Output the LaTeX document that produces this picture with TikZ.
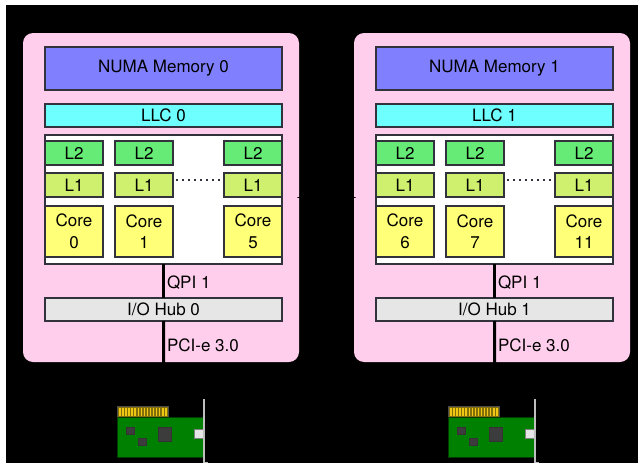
\documentclass[tikz,border=0pt]{standalone}
\usepackage{fontspec}
\setmainfont{TeX Gyre Heros}
\definecolor{edge}{RGB}{50,50,60}
\definecolor{socketpink}{RGB}{255,206,236}
\definecolor{memblue}{RGB}{128,128,255}
\definecolor{llccyan}{RGB}{110,255,255}
\definecolor{ltwo}{RGB}{102,236,118}
\definecolor{lone}{RGB}{206,240,110}
\definecolor{coreyellow}{RGB}{255,255,120}
\definecolor{hubgray}{RGB}{230,230,230}
\definecolor{pcbgreen}{RGB}{0,128,0}
\definecolor{pcbedge}{RGB}{0,60,0}
\definecolor{goldpin}{RGB}{240,200,20}
\definecolor{goldbase}{RGB}{130,110,10}
\definecolor{chipgray}{RGB}{60,60,60}
\definecolor{bracketgray}{RGB}{190,190,190}
\begin{document}
\begin{tikzpicture}[x=1pt,y=-1pt,
  every node/.style={font=\fontsize{17}{21.5}\selectfont, inner sep=0pt, outer sep=0pt},
  socket/.style={fill=socketpink, rounded corners=10pt, anchor=north west},
  unit/.style={draw=edge, line width=1.2pt, anchor=north west},
  cache/.style={unit, minimum width=58pt, minimum height=24pt},
  corebox/.style={unit, fill=coreyellow, minimum width=58pt, minimum height=51pt, align=center},
  bus/.style={line width=3pt, black},
  buslabel/.style={anchor=west},
  nic/.pic={
    % gold edge connector
    \fill[goldbase, draw=black!70, line width=0.6pt] (0,0) rectangle (51,11);
    \foreach \i in {0,...,15} \fill[goldpin] (2.2+\i*3.05,1.5) rectangle ++(1.6,8.5);
    % board
    \fill[pcbgreen, draw=pcbedge, line width=0.8pt] (0,11) rectangle (86,51);
    % chips
    \fill[chipgray, draw=black!80, line width=0.6pt] (9,21) rectangle (17,28);
    \fill[chipgray, draw=black!80, line width=0.6pt] (21,32) rectangle (29,39);
    \fill[chipgray, draw=black!80, line width=0.6pt] (41,21) rectangle (54,35);
    % port
    \fill[hubgray, draw=black!50, line width=0.6pt] (77,23) rectangle (86,32);
    % bracket
    \draw[bracketgray, line width=1.4pt] (87,-7) -- (87,56.5) -- (91,56.5);
  }]
\useasboundingbox (0,0) rectangle (638,463);
\fill[white] (0,0) rectangle (638,463);
\fill[black] (6,5) rectangle (638,463);

\foreach \dx/\n/\s/\ca/\cb/\cc in {0/0/L/0/1/5, 331/1/R/6/7/11}{
  \begin{scope}[xshift=\dx pt]
    \node[socket, minimum width=276pt, minimum height=329pt] (sock\s) at (23,33) {};
    \node[unit, fill=memblue, minimum width=237pt, minimum height=43pt] (mem\s) at (45,47) {NUMA Memory \n};
    \node[unit, fill=llccyan, minimum width=237pt, minimum height=23pt] (llc\s) at (45,104) {LLC \n};
    \node[unit, fill=white, minimum width=237pt, minimum height=129pt] (cpu\s) at (45,135) {};
    \node[cache, fill=ltwo] (l2a\s) at (45,141) {L2};
    \node[cache, fill=ltwo] (l2b\s) at (115,141) {L2};
    \node[cache, fill=ltwo] (l2c\s) at (224,141) {L2};
    \node[cache, fill=lone] (l1a\s) at (45,173) {L1};
    \node[cache, fill=lone] (l1b\s) at (115,173) {L1};
    \node[cache, fill=lone] (l1c\s) at (224,173) {L1};
    \node[corebox] (ca\s) at (45,206) {Core\\\ca};
    \node[corebox] (cb\s) at (115,206) {Core\\\cb};
    \node[corebox] (cc\s) at (224,206) {Core\\\cc};
    \draw[edge, line width=1.2pt, dash pattern=on 1.5pt off 4.5pt]
      ([xshift=3pt,yshift=5pt]l1b\s.east) -- ([xshift=-2pt,yshift=5pt]l1c\s.west);
    \node[unit, fill=hubgray, minimum width=237pt, minimum height=23pt] (io\s) at (45,298) {I/O Hub \n};
    \pic at (117,406) {nic};
    \coordinate (slot\s) at (164,406);
    \draw[bus] (cpu\s.south) -- (io\s.north);
    \draw[bus] (io\s.south) -- (slot\s);
    \node[buslabel] (qpi\s) at (167,283) {QPI 1};
    \node[buslabel] (pci\s) at (167,345) {PCI-e 3.0};
  \end{scope}
}
% inter-socket link
\draw[black, line width=1.6pt, line cap=round] ([xshift=-1pt]sockL.east) -- ([xshift=1pt]sockR.west);
\end{tikzpicture}
\end{document}
